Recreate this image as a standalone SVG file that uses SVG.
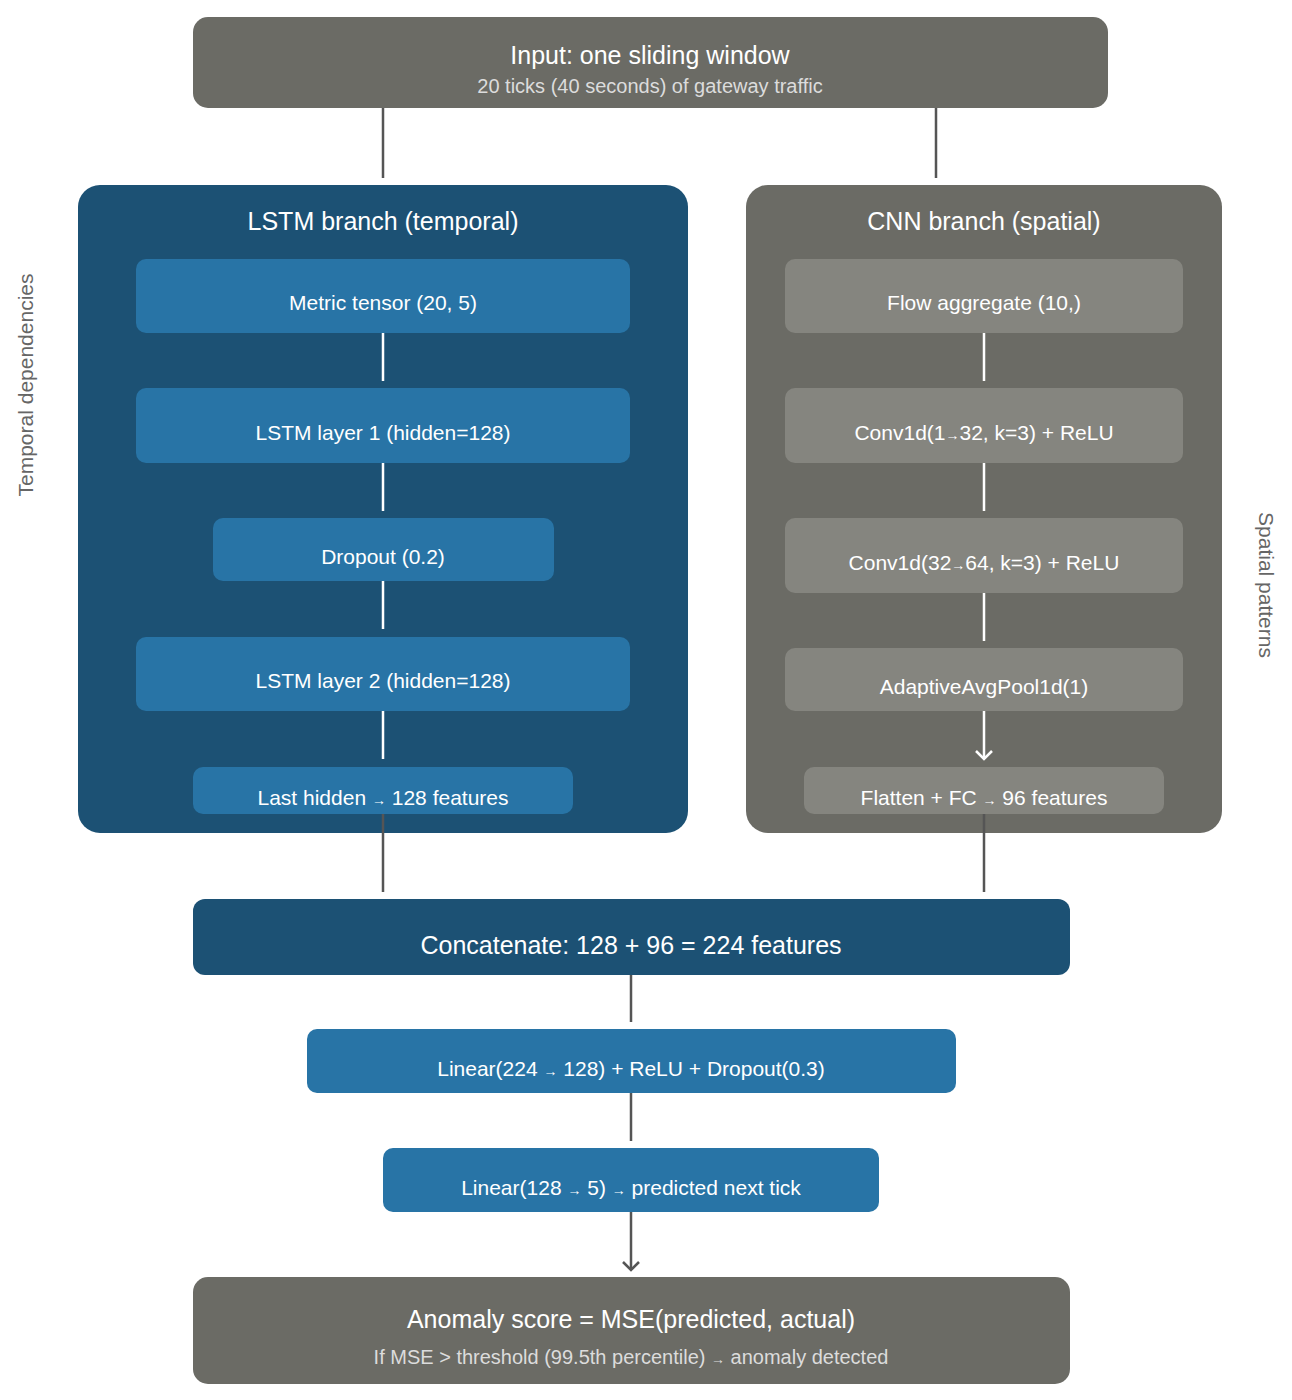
<svg xmlns="http://www.w3.org/2000/svg" width="1292" height="1400" viewBox="0 0 1292 1400">
<style>
text{font-family:"Liberation Sans",Arial,sans-serif;text-anchor:middle}
.t{fill:#fff;font-size:21px}
.h{fill:#fff;font-size:25px}
.s{fill:#dcdcdc;font-size:20px}
.a{font-size:14px}
.side{fill:#666;font-size:21px}
.dk{fill:#1c5174}.md{fill:#2874a6}.gy{fill:#6b6b65}.lg{fill:#85857f}
.cg{stroke:#555;stroke-width:2.5;fill:none}
.cw{stroke:#fff;stroke-width:2.5;fill:none}
</style>
<defs>
<marker id="ag" markerWidth="20" markerHeight="20" refX="10" refY="10" markerUnits="userSpaceOnUse" orient="auto"><path d="M2,2 L10,10 L2,18" fill="none" stroke="#555" stroke-width="2.5"/></marker>
<marker id="aw" markerWidth="20" markerHeight="20" refX="10" refY="10" markerUnits="userSpaceOnUse" orient="auto"><path d="M2,2 L10,10 L2,18" fill="none" stroke="#fff" stroke-width="2.5"/></marker>
</defs>
<g id="input"><rect x="193" y="17" width="915" height="91" rx="15" class="gy"/><text x="650" y="64" class="h">Input: one sliding window</text><text x="650" y="93" class="s">20 ticks (40 seconds) of gateway traffic</text></g>
<g id="lstm"><rect x="78" y="185" width="610" height="648" rx="22" class="dk"/><text x="383" y="230" class="h">LSTM branch (temporal)</text></g>
<g id="cnn"><rect x="746" y="185" width="476" height="648" rx="22" class="gy"/><text x="984" y="230" class="h">CNN branch (spatial)</text></g>
<g id="l1"><rect x="136" y="259" width="494" height="74" rx="10" class="md"/><text x="383" y="310" class="t">Metric tensor (20, 5)</text></g>
<g id="l2"><rect x="136" y="388" width="494" height="75" rx="10" class="md"/><text x="383" y="440" class="t">LSTM layer 1 (hidden=128)</text></g>
<g id="l3"><rect x="213" y="518" width="341" height="63" rx="10" class="md"/><text x="383" y="564" class="t">Dropout (0.2)</text></g>
<g id="l4"><rect x="136" y="637" width="494" height="74" rx="10" class="md"/><text x="383" y="688" class="t">LSTM layer 2 (hidden=128)</text></g>
<g id="l5"><rect x="193" y="767" width="380" height="47" rx="10" class="md"/><text x="383" y="805" class="t">Last hidden <tspan class="a">→</tspan> 128 features</text></g>
<g id="c1"><rect x="785" y="259" width="398" height="74" rx="10" class="lg"/><text x="984" y="310" class="t">Flow aggregate (10,)</text></g>
<g id="c2"><rect x="785" y="388" width="398" height="75" rx="10" class="lg"/><text x="984" y="440" class="t">Conv1d(1<tspan class="a">→</tspan>32, k=3) + ReLU</text></g>
<g id="c3"><rect x="785" y="518" width="398" height="75" rx="10" class="lg"/><text x="984" y="570" class="t">Conv1d(32<tspan class="a">→</tspan>64, k=3) + ReLU</text></g>
<g id="c4"><rect x="785" y="648" width="398" height="63" rx="10" class="lg"/><text x="984" y="694" class="t">AdaptiveAvgPool1d(1)</text></g>
<g id="c5"><rect x="804" y="767" width="360" height="47" rx="10" class="lg"/><text x="984" y="805" class="t">Flatten + FC <tspan class="a">→</tspan> 96 features</text></g>
<g id="concat"><rect x="193" y="899" width="877" height="76" rx="12" class="dk"/><text x="631" y="954" class="h">Concatenate: 128 + 96 = 224 features</text></g>
<g id="lin1"><rect x="307" y="1029" width="649" height="64" rx="10" class="md"/><text x="631" y="1076" class="t">Linear(224 <tspan class="a">→</tspan> 128) + ReLU + Dropout(0.3)</text></g>
<g id="lin2"><rect x="383" y="1148" width="496" height="64" rx="10" class="md"/><text x="631" y="1195" class="t">Linear(128 <tspan class="a">→</tspan> 5) <tspan class="a">→</tspan> predicted next tick</text></g>
<g id="score"><rect x="193" y="1277" width="877" height="107" rx="15" class="gy"/><text x="631" y="1328" class="h">Anomaly score = MSE(predicted, actual)</text><text x="631" y="1364" class="s">If MSE &gt; threshold (99.5th percentile) <tspan class="a">→</tspan> anomaly detected</text></g>
<g id="side"><text transform="translate(33,385) rotate(-90)" class="side">Temporal dependencies</text><text transform="translate(1259,585) rotate(90)" class="side">Spatial patterns</text></g>
<g id="connectors">
<path class="cg" marker-end="url(#ag)" d="M383,108V178M936,108V178M383,814V892M984,814V892M631,975V1022M631,1093V1141M631,1212V1270"/>
<path class="cw" marker-end="url(#aw)" d="M383,333V381M383,463V511M383,581V629M383,711V759M984,333V381M984,463V511M984,593V641M984,711V759"/>
</g>
</svg>
